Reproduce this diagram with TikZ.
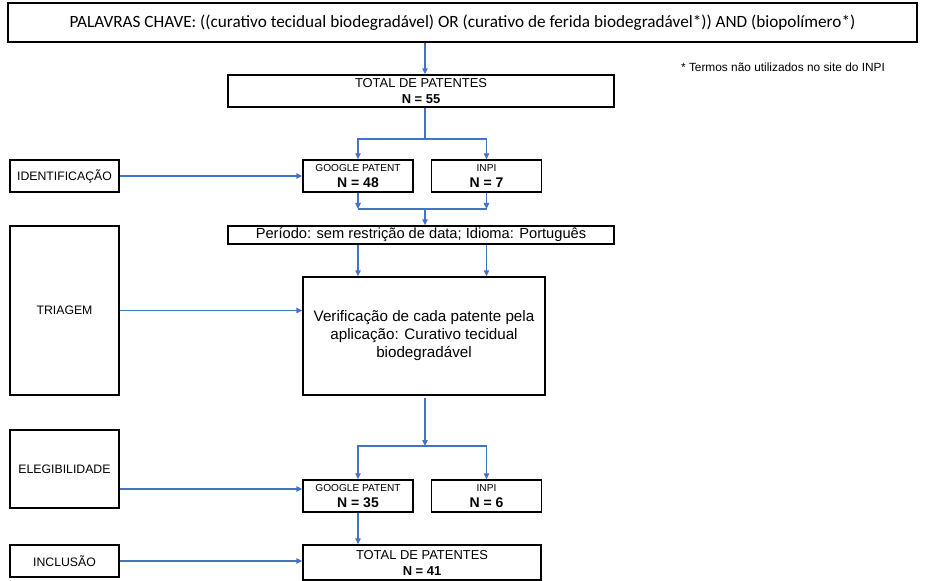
\documentclass[tikz,border=0pt]{standalone}
\usepackage{fontspec}
\setmainfont{Liberation Sans}
\newfontfamily\keysfont{Carlito}
\usetikzlibrary{arrows.meta}
\definecolor{flowblue}{RGB}{68,114,196}
\tikzset{
  box/.style={draw=black, line width=1pt, inner sep=0pt, align=center},
  stage/.style={box, minimum width=81.75pt, font=\fontsize{9.2}{11}\selectfont},
  source/.style={box, minimum width=82.5pt, minimum height=24pt, font=\fontsize{10.5}{12}\selectfont},
  flow/.style={draw=flowblue, line width=1pt, -{Triangle[length=4.5pt,width=4pt]}},
  wire/.style={draw=flowblue, line width=1pt},
}

\begin{document}
\begin{tikzpicture}[x=0.75pt,y=0.75pt,yscale=-1,xscale=1]
\path[use as bounding box] (0,0) rectangle (928,581);

%Shape: Rectangle [keys]
\node[box, minimum width=681.75pt, minimum height=29.25pt, font=\keysfont\fontsize{12.9}{16}\selectfont] (keys) at (462.5,22.5) {PALAVRAS CHAVE: ((curativo tecidual biodegradável) OR (curativo de ferida biodegradável*)) AND (biopolímero*)};
% Text Node
\node[font=\fontsize{8.9}{10}\selectfont] (note) at (783,67) {* Termos não utilizados no site do INPI};

%Shape: Rectangle [totals]
\node[box, minimum width=289.5pt, minimum height=24pt, font=\fontsize{9.7}{12}\selectfont] (total1) at (421,91) {TOTAL DE PATENTES\\ \textbf{N = 55}};
\node[box, minimum width=178.5pt, minimum height=26.25pt, font=\fontsize{9.7}{12}\selectfont] (total2) at (422,562.5) {TOTAL DE PATENTES\\ \textbf{N = 41}};

%Shape: Rectangle [stages]
\node[stage, minimum height=24pt] (ident) at (64.5,176) {IDENTIFICAÇÃO};
\node[stage, minimum height=126.75pt] (triagem) at (64.5,310.5) {TRIAGEM};
\node[stage, minimum height=58.5pt] (eleg) at (64.5,469) {ELEGIBILIDADE};
\node[stage, minimum height=24pt] (incl) at (64.5,561) {INCLUSÃO};

%Shape: Rectangle [sources]
\node[source] (gp1) at (358,176) {{\fontsize{7.6}{9}\selectfont GOOGLE PATENT}\\ \textbf{N = 48}};
\node[source] (inpi1) at (486.5,176) {{\fontsize{7.6}{9}\selectfont INPI}\\ \textbf{N = 7}};
\node[source] (gp2) at (358,496) {{\fontsize{7.6}{9}\selectfont GOOGLE PATENT}\\ \textbf{N = 35}};
\node[source] (inpi2) at (486.5,496) {{\fontsize{7.6}{9}\selectfont INPI}\\ \textbf{N = 6}};

%Shape: Rectangle [filters]
\node[box, minimum width=289.5pt, minimum height=13.5pt, font=\fontsize{11}{13}\selectfont] (periodo) at (421,235) {Período: sem restrição de data; Idioma: Português};
\node[box, minimum width=181.5pt, minimum height=88.5pt, font=\fontsize{11.4}{13.5}\selectfont] (verif) at (424,336) {Verificação de cada patente pela\\aplicação: Curativo tecidual\\biodegradável};

% Coordinates
\coordinate (spine) at (425,0);
\coordinate (fork1) at (425,139);
\coordinate (join1) at (425,209);
\coordinate (drop2) at (425,398);
\coordinate (fork2) at (425,446);
\coordinate (elegin) at (0,489);

%Straight Lines
\draw[flow] (keys.south -| spine) -- (total1.north -| spine);
\draw[wire] (total1.south -| spine) -- (fork1);
\draw[flow] (fork1) -| (gp1.north);
\draw[flow] (fork1) -| (inpi1.north);
\draw[flow] (gp1.south) -- (gp1.south |- join1);
\draw[flow] (inpi1.south) -- (inpi1.south |- join1);
\draw[wire] (gp1.south |- join1) -- (inpi1.south |- join1);
\draw[flow] (join1) -- (periodo.north -| spine);
\draw[flow] (periodo.south -| gp1) -- (verif.north -| gp1);
\draw[flow] (periodo.south -| inpi1) -- (verif.north -| inpi1);
\draw[flow] (drop2) -- (fork2);
\draw[flow] (fork2) -| (gp2.north);
\draw[flow] (fork2) -| (inpi2.north);
\draw[flow] (gp2.south) -- (total2.north -| gp2);
%Straight Lines [stages]
\draw[flow] (ident.east) -- (gp1.west);
\draw[flow] (triagem.east) -- (triagem.east -| verif.west);
\draw[flow] (eleg.east |- elegin) -- (gp2.west |- elegin);
\draw[flow] (incl.east) -- (total2.west |- incl.east);

\end{tikzpicture}
\end{document}
